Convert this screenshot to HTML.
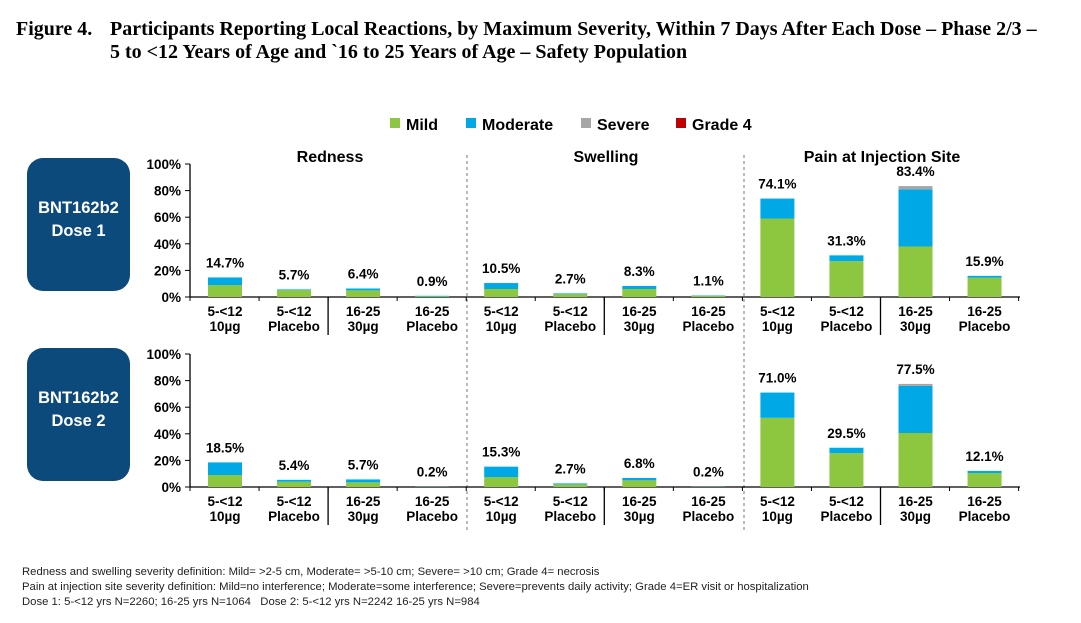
<!DOCTYPE html>
<html><head><meta charset="utf-8">
<style>
html,body{margin:0;padding:0;background:#fff;}
body{width:1081px;height:623px;overflow:hidden;position:relative;}
.title{position:absolute;left:16px;top:18px;width:1060px;font-family:"Liberation Serif",serif;font-weight:bold;font-size:20px;color:#000;line-height:23px;}
.title .lab{position:absolute;left:0;top:0;white-space:nowrap;}
.title .txt{position:absolute;left:94px;top:0;white-space:nowrap;}
.foot{position:absolute;left:22px;top:565px;font-family:"Liberation Sans",sans-serif;font-size:11.3px;color:#222;line-height:15px;white-space:nowrap;}
svg{position:absolute;left:0;top:0;}
svg text{font-family:"Liberation Sans Narrow","Liberation Sans",sans-serif;font-weight:bold;}
</style></head><body>
<div class="title"><span class="lab">Figure 4.</span><span class="txt">Participants Reporting Local Reactions, by Maximum Severity, Within 7 Days After Each Dose – Phase 2/3 –<br>5 to &lt;12 Years of Age and `16 to 25 Years of Age – Safety Population</span></div>
<svg id="chart" width="1081" height="623"></svg>
<div class="foot">Redness and swelling severity definition: Mild= &gt;2-5 cm, Moderate= &gt;5-10 cm; Severe= &gt;10 cm; Grade 4= necrosis<br>Pain at injection site severity definition: Mild=no interference; Moderate=some interference; Severe=prevents daily activity; Grade 4=ER visit or hospitalization<br>Dose 1: 5-&lt;12 yrs N=2260; 16-25 yrs N=1064&nbsp;&nbsp;&nbsp;Dose 2: 5-&lt;12 yrs N=2242 16-25 yrs N=984</div>
<script>
const catTop = ["5-<12","5-<12","16-25","16-25","5-<12","5-<12","16-25","16-25","5-<12","5-<12","16-25","16-25"];
const catBot = ["10µg","Placebo","30µg","Placebo","10µg","Placebo","30µg","Placebo","10µg","Placebo","30µg","Placebo"];
const groups = ["Redness","Swelling","Pain at Injection Site"];
const yTicks = [0,20,40,60,80,100];
const series = ["Mild","Moderate","Severe","Grade 4"];
const d1Mild = [9,5.2,5,0.5, 6,2.2,6,0.7, 59,27,38,14.5];
const d1Mod  = [5.7,0.5,1.4,0.4, 4.5,0.5,2.3,0.4, 15,4.3,43,1.4];
const d1Sev  = [0,0,0,0, 0,0,0,0, 0.1,0,2.4,0];
const d1Tot  = ["14.7%","5.7%","6.4%","0.9%","10.5%","2.7%","8.3%","1.1%","74.1%","31.3%","83.4%","15.9%"];
const d2Mild = [9,4,3.5,0.1, 7.5,2,5,0.1, 52,25.5,40.6,10.5];
const d2Mod  = [9.5,1.4,2.2,0.1, 7.8,0.7,1.8,0.1, 19,4,35.4,1.6];
const d2Sev  = [0,0,0,0, 0,0,0,0, 0,0,1.5,0];
const d2Tot  = ["18.5%","5.4%","5.7%","0.2%","15.3%","2.7%","6.8%","0.2%","71.0%","29.5%","77.5%","12.1%"];
const colors = ["#8dc63f","#00a9e6","#a6a6a6","#c00000"];

const svg = document.getElementById('chart');
const NS = "http://www.w3.org/2000/svg";
function mk(tag, attrs, parent){const e=document.createElementNS(NS,tag);for(const k in attrs)e.setAttribute(k,attrs[k]);(parent||svg).appendChild(e);return e;}
const x0 = 225, step = 69.05, bw = 34;
function xc(i){return x0 + i*step;}

const legX=[390,466,581,676];
series.forEach((s,i)=>{
  const g=mk('g',{});
  
  
  mk('rect',{x:legX[i],y:118,width:10,height:10,fill:colors[i]},g);
  const t=mk('text',{x:legX[i]+16,y:130,'font-size':16,fill:'#000'},g);t.textContent=s;
});

const gx=[330,606,882];
groups.forEach((g,i)=>{const t=mk('text',{x:gx[i],y:162,'font-size':16,'text-anchor':'middle',fill:'#000'});t.textContent=g;
 });
[467,744].forEach(x=>{const l=mk('line',{x1:x,y1:155,x2:x,y2:532,stroke:'#777','stroke-dasharray':'3,3','stroke-width':1});
 });

function panel(name, y0, mild, mod, sev, tot, label){
  const H=133;
  const ys=v=>y0 - v/100*H;
  const g=mk('g',{});
  
  
  const b=mk('rect',{x:27,y:y0-139,width:103,height:133,rx:16,fill:'#0d4a7c'},g);
  
  label.forEach((l,k)=>{const t=mk('text',{x:78.5,y:y0-84+k*23,'font-size':16.5,'text-anchor':'middle',fill:'#fff'},g);t.textContent=l;});
  mk('line',{x1:190,y1:ys(100),x2:190,y2:y0,stroke:'#000','stroke-width':1.3},g);
  yTicks.forEach(v=>{mk('line',{x1:185,y1:ys(v),x2:190,y2:ys(v),stroke:'#000'},g);
    const t=mk('text',{x:181,y:ys(v)+5,'font-size':13.5,'text-anchor':'end',fill:'#000'},g);t.textContent=v+'%';});
  mk('line',{x1:190,y1:y0,x2:1020,y2:y0,stroke:'#000','stroke-width':1.3},g);
  for(let i=0;i<=12;i++){const x=190+i*step;mk('line',{x1:x,y1:y0,x2:x,y2:y0+4,stroke:'#000'},g);}
  [2,6,10].forEach(i=>{mk('line',{x1:190+i*step,y1:y0,x2:190+i*step,y2:y0+38,stroke:'#000','stroke-width':1.3},g);});
  catTop.forEach((c,i)=>{
    let base=0;
    [mild[i],mod[i],sev[i]].forEach((v,k)=>{
      if(v<=0)return;
      const r=mk('rect',{x:xc(i)-bw/2,y:ys(base+v),width:bw,height:v/100*H,fill:colors[k]},g);
      
      
      base+=v;
    });
    const t=mk('text',{x:xc(i),y:ys(base)-10,'font-size':13.5,'text-anchor':'middle',fill:'#000'},g);t.textContent=tot[i];
    const a=mk('text',{x:xc(i),y:y0+19,'font-size':13.5,'text-anchor':'middle',fill:'#000'},g);a.textContent=c;
    const b2=mk('text',{x:xc(i),y:y0+34,'font-size':13.5,'text-anchor':'middle',fill:'#000'},g);b2.textContent=catBot[i];
  });
}
panel('dose1-panel',297,d1Mild,d1Mod,d1Sev,d1Tot,['BNT162b2','Dose 1']);
panel('dose2-panel',487,d2Mild,d2Mod,d2Sev,d2Tot,['BNT162b2','Dose 2']);
</script>
</body></html>
